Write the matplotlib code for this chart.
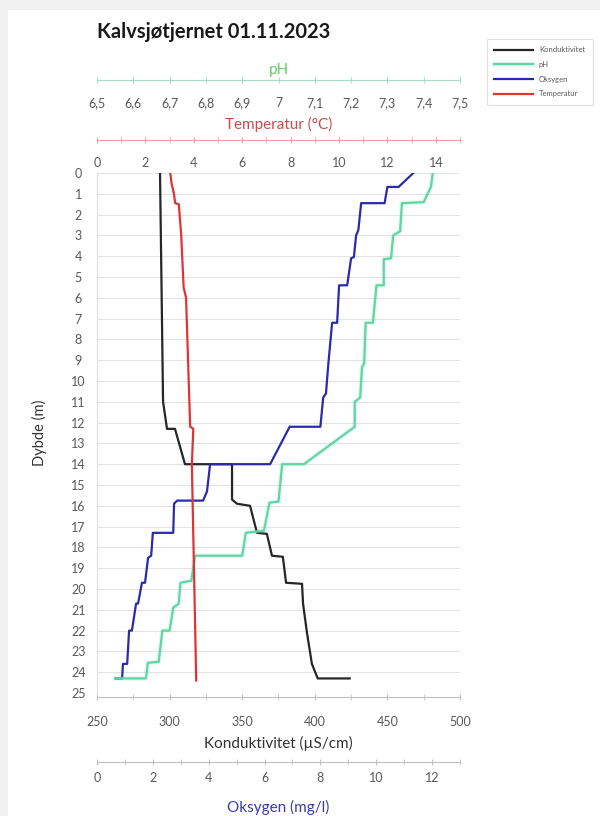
import numpy as np
import matplotlib.pyplot as plt
from matplotlib.patches import Rectangle
from matplotlib.ticker import MultipleLocator, FuncFormatter
import matplotlib.patheffects as pe

plt.rcParams['font.family'] = ['Lato', 'DejaVu Sans']

# Konduktivitet (µS/cm)
kond_dybde = [0, 11.0, 12.2, 12.3, 12.3, 14.0, 14.0, 15.7, 15.9, 16.0, 17.3, 17.35,
              18.4, 18.45, 19.7, 19.75, 20.7, 22.1, 23.6, 24.3, 24.3]
kond = [293.4, 295.5, 298.0, 298.2, 303.7, 310.6, 343.0, 343.0, 346.4, 355.4, 360.2, 367.0,
        370.5, 378.0, 380.2, 391.2, 391.9, 394.6, 398.0, 402.0, 424.0]

# pH
ph_dybde = [0, 0.67, 1.4, 1.45, 2.8, 3.0, 4.1, 4.15, 5.4, 5.4, 7.2, 7.2, 9.15, 9.35,
            10.8, 11.0, 12.2, 14.0, 14.0, 14.9, 15.8, 15.85, 17.2, 17.3, 18.4, 18.4,
            19.6, 19.7, 20.7, 20.9, 22.0, 22.0, 23.5, 23.55, 24.3, 24.3]
ph = [7.425, 7.42, 7.40, 7.34, 7.335, 7.316, 7.31, 7.29, 7.29, 7.27, 7.26, 7.24, 7.236, 7.23,
      7.225, 7.21, 7.21, 7.07, 7.01, 7.005, 7.0, 6.975, 6.96, 6.91, 6.9, 6.77,
      6.76, 6.73, 6.725, 6.71, 6.70, 6.68, 6.67, 6.64, 6.635, 6.55]

# Oksygen (mg/l)
oks_dybde = [0, 0.67, 0.67, 1.45, 1.45, 2.74, 3.0, 4.04, 4.1, 5.4, 5.4, 7.2, 7.2, 9.25,
             10.6, 10.8, 12.2, 12.2, 14.0, 14.0, 15.3, 15.75, 15.75, 15.9, 17.3, 17.3,
             18.4, 18.5, 19.7, 19.7, 20.7, 20.7, 22.0, 22.0, 23.6, 23.6, 24.3, 24.3]
oksygen = [11.33, 10.8, 10.4, 10.3, 9.46, 9.36, 9.28, 9.2, 9.1, 8.96, 8.67, 8.6, 8.42, 8.28,
           8.2, 8.1, 8.0, 6.9, 6.2, 4.05, 3.94, 3.8, 2.87, 2.76, 2.73, 2.0,
           1.94, 1.83, 1.72, 1.61, 1.47, 1.4, 1.25, 1.15, 1.08, 0.93, 0.9, 0.68]

# Temperatur (°C)
temp_dybde = [0, 0.5, 1.0, 1.45, 1.5, 3.0, 5.5, 6.0, 12.2, 12.3, 14.0, 24.4]
temp = [3.03, 3.08, 3.18, 3.23, 3.38, 3.48, 3.58, 3.68, 3.85, 3.98, 3.92, 4.1]

farge_kond = '#262626'
farge_ph = '#5fd6a4'
farge_oks = '#2b2ba8'
farge_temp = '#e03333'
tekst = '#595959'

W, H = 600, 816
fig = plt.figure(figsize=(W / 100, H / 100), dpi=100, facecolor='#f0f0f0')
fig.patches.append(Rectangle((8 / W, 0), 1, 1 - 10 / H, transform=fig.transFigure,
                             facecolor='white', edgecolor='none', zorder=-10))

left, right, top, bottom = 97, 460, 173, 693
ax = fig.add_axes([left / W, 1 - bottom / H, (right - left) / W, (bottom - top) / H])
ax.patch.set_visible(False)


def pos(px):
    # y position in axes coordinates for a pixel row
    return (bottom - px) / (bottom - top)


def komma(v, _):
    return ('%g' % round(v, 2)).replace('.', ',')


# Dybde og konduktivitet
ax.set_ylim(25, 0)
ax.set_yticks(range(0, 26))
ax.yaxis.grid(True, color='#e3e3e3', lw=0.8)
ax.set_axisbelow(True)
ax.tick_params(axis='y', length=0, pad=13.5, labelsize=9, labelcolor=tekst)
for t in ax.get_yticklabels():
    t.set_horizontalalignment('center')
ax.set_ylabel('Dybde (m)', fontsize=10.5, color='#333333')
ax.yaxis.set_label_coords((47 - left) / (right - left), 0.5)
ax.set_xlim(250, 500)
ax.xaxis.set_major_locator(MultipleLocator(50))
ax.xaxis.set_minor_locator(MultipleLocator(25))
ax.tick_params(axis='x', which='both', direction='inout', length=4, color='#bfbfbf',
               labelsize=9, labelcolor=tekst, pad=12)
for s in ['top', 'right']:
    ax.spines[s].set_visible(False)
ax.spines['left'].set_color('#e0e0e0')
ax.spines['bottom'].set_color('#bfbfbf')
ax.spines['bottom'].set_position(('axes', pos(697)))
fig.text((left + right) / 2 / W, 1 - 743 / H, 'Konduktivitet (µS/cm)', ha='center',
         va='center', fontsize=11, color='#333333')


def ekstra_akse(ypx, xmin, xmax, major, minor, linjefarge, pad):
    a = ax.twiny()
    a.patch.set_visible(False)
    a.set_xlim(xmin, xmax)
    for s in ['top', 'right', 'left']:
        a.spines[s].set_visible(False)
    a.spines['bottom'].set_visible(True)
    a.spines['bottom'].set_position(('axes', pos(ypx)))
    a.spines['bottom'].set_color(linjefarge)
    a.xaxis.set_ticks_position('bottom')
    a.xaxis.set_major_locator(MultipleLocator(major))
    a.xaxis.set_minor_locator(MultipleLocator(minor))
    a.xaxis.set_major_formatter(FuncFormatter(komma))
    a.tick_params(axis='x', which='both', direction='inout', length=4, color=linjefarge,
                  labelsize=9, labelcolor=tekst, pad=pad)
    return a


ax_oks = ekstra_akse(762, 0, 13, 2, 1, '#bfbfbf', 5)
ax_ph = ekstra_akse(80, 6.5, 7.5, 0.1, 0.1, '#a8dcc4', 10)
ax_temp = ekstra_akse(140, 0, 15, 2, 1, '#e8a0a0', 10)

fig.text((left + right) / 2 / W, 1 - 807 / H, 'Oksygen (mg/l)', ha='center', va='center',
         fontsize=11, color='#3a3ab0')
fig.text((left + right) / 2 / W, 1 - 70 / H, 'pH', ha='center', va='center',
         fontsize=11, color='#66cc66')
fig.text((left + right) / 2 / W, 1 - 124 / H, 'Temperatur (°C)', ha='center', va='center',
         fontsize=11, color='#d04848')

glod = [pe.Stroke(linewidth=3.5, foreground=farge_ph, alpha=0.15), pe.Normal()]
l_kond, = ax.plot(kond, kond_dybde, color=farge_kond, lw=1.6, label='Konduktivitet')
l_oks, = ax_oks.plot(oksygen, oks_dybde, color=farge_oks, lw=1.6, label='Oksygen')
l_ph, = ax_ph.plot(ph, ph_dybde, color=farge_ph, lw=1.6, path_effects=glod, label='pH')
l_temp, = ax_temp.plot(temp, temp_dybde, color=farge_temp, lw=1.6, label='Temperatur')

fig.text(97 / W, 1 - 32 / H, 'Kalvsjøtjernet 01.11.2023', ha='left', va='center',
         fontsize=14.5, fontweight='bold', color='#1a1a1a')

leg = fig.legend([l_kond, l_ph, l_oks, l_temp],
                 ['Konduktivitet', 'pH', 'Oksygen', 'Temperatur'],
                 loc='upper left', bbox_to_anchor=(483 / W, 1 - 35 / H),
                 fontsize=5.5, frameon=True, fancybox=False, edgecolor='#d9d9d9',
                 handlelength=5, labelcolor='#595959', borderpad=1.0, labelspacing=1.0)
leg.get_frame().set_linewidth(0.8)

fig.savefig('out.png', dpi=100, facecolor=fig.get_facecolor())
